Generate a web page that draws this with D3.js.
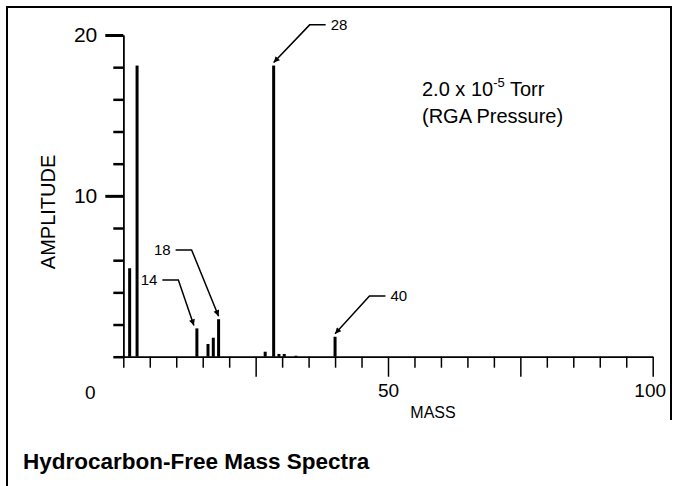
<!DOCTYPE html>
<html>
<head>
<meta charset="utf-8">
<script src="https://cdn.jsdelivr.net/npm/d3@7"></script>
<style>
  body { margin: 0; background: #fff; }
  text { font-family: "Liberation Sans", Arial, sans-serif; fill: #000; }
</style>
</head>
<body>
<svg id="grafico"></svg>
<script>
// peak positions (mass) and amplitudes
const massas = [1.2, 2.6, 13.9, 16, 17, 18, 26.8, 28.4, 29.4, 30.4, 32.6, 40];
const amplitudes = [5.5, 18.1, 1.76, 0.79, 1.18, 2.33, 0.31, 18.1, 0.17, 0.17, 0.06, 1.24];

const ticksY = [0, 2, 4, 6, 8, 12, 14, 16, 18];
const ticksYMaiores = [10, 20];
const ticksX = [0, 5, 10, 15, 20, 30, 35, 40, 45, 55, 60, 65, 70, 80, 85, 90, 95];
const ticksXMaiores = [25, 50, 75, 100];
const rotulosX = [50, 100];

// labelled peaks: label, peak mass, elbow of the leader (data units), side of the text
const anotacoes = [
  { rotulo: '28', massa: 28.4, valor: 18.1, cotoveloX: 35.2, cotoveloY: 20.63, lado: 'direita' },
  { rotulo: '18', massa: 18, valor: 2.33, cotoveloX: 12.9, cotoveloY: 6.64, lado: 'esquerda' },
  { rotulo: '14', massa: 13.9, valor: 1.76, cotoveloX: 10.4, cotoveloY: 4.77, lado: 'esquerda' },
  { rotulo: '40', massa: 40, valor: 1.24, cotoveloX: 46.5, cotoveloY: 3.78, lado: 'direita' }
];

const largura = 677, altura = 486;
const margem = { esquerda: 123.3, direita: 24.3, superior: 35, inferior: 129.3 };

let svg = d3.select('#grafico')
  .attr('width', largura)
  .attr('height', altura);

// frame
svg.append('path')
  .attr('d', 'M7,486 V7 H671 V420')
  .attr('fill', 'none')
  .attr('stroke', '#000')
  .attr('stroke-width', 2);

let larguraPlotagem = largura - margem.esquerda - margem.direita;
let alturaPlotagem = altura - margem.superior - margem.inferior;

let plotagem = svg.append('g')
  .attr('transform', 'translate(' + margem.esquerda + ',' + margem.superior + ')');

let fnX = d3.scaleLinear().domain([0, 100]).range([0, larguraPlotagem]);
let fnY = d3.scaleLinear().domain([0, 20]).range([alturaPlotagem, 0]);

// y axis
plotagem.append('g')
  .attr('class', 'eixoY')
  .call(d3.axisLeft(fnY).tickValues(ticksY).tickSize(10).tickFormat('').tickSizeOuter(0))
  .call(g => g.selectAll('.tick line').attr('stroke-width', 2.5));
plotagem.append('g')
  .attr('class', 'eixoY')
  .call(d3.axisLeft(fnY).tickValues(ticksYMaiores).tickSize(18).tickPadding(8).tickSizeOuter(0))
  .call(g => g.selectAll('.tick line').attr('stroke-width', 3))
  .call(g => g.selectAll('.tick text').style('font-size', '21px'));
plotagem.selectAll('.eixoY .domain').attr('stroke-width', 1.5);

// x axis
plotagem.append('g')
  .attr('class', 'eixoX')
  .attr('transform', 'translate(0,' + alturaPlotagem + ')')
  .call(d3.axisBottom(fnX).tickValues(ticksX).tickSize(11).tickFormat('').tickSizeOuter(0))
  .call(g => g.selectAll('.tick line').attr('stroke-width', 1.5));
plotagem.append('g')
  .attr('class', 'eixoX')
  .attr('transform', 'translate(0,' + alturaPlotagem + ')')
  .call(d3.axisBottom(fnX).tickValues(ticksXMaiores).tickSize(20).tickFormat('').tickSizeOuter(0))
  .call(g => g.selectAll('.tick line').attr('stroke-width', 1.5));
plotagem.append('g')
  .attr('transform', 'translate(0,' + alturaPlotagem + ')')
  .call(d3.axisBottom(fnX).tickValues(rotulosX).tickSize(0).tickPadding(27).tickSizeOuter(0))
  .call(g => g.select('.domain').remove())
  .call(g => g.selectAll('.tick text').style('font-size', '19px'))
  .call(g => g.selectAll('.tick text').filter(d => d === 100).attr('dx', -3));
plotagem.selectAll('.eixoX .domain').attr('stroke-width', 1.5);

// the lone origin label sits left of the axis
plotagem.append('text')
  .attr('x', fnX(0) - 33)
  .attr('y', alturaPlotagem + 42)
  .style('text-anchor', 'middle')
  .style('font-size', '19px')
  .text('0');

// peaks
let dados = massas.map((m, i) => ({ massa: m, valor: amplitudes[i] }));
plotagem.selectAll('.barra')
  .data(dados)
  .enter()
  .append('rect')
  .classed('barra', true)
  .attr('x', d => fnX(d.massa) - 1.5)
  .attr('y', d => fnY(d.valor))
  .attr('width', 3)
  .attr('height', d => alturaPlotagem - fnY(d.valor))
  .attr('fill', '#000');

// leader lines with arrow heads
svg.append('defs').append('marker')
  .attr('id', 'seta')
  .attr('viewBox', '0 0 10 10')
  .attr('refX', 10).attr('refY', 5)
  .attr('markerWidth', 10).attr('markerHeight', 6)
  .attr('markerUnits', 'userSpaceOnUse')
  .attr('orient', 'auto')
  .append('path')
  .attr('d', 'M0,0 L10,5 L0,10 z')
  .attr('fill', '#000');

anotacoes.forEach(a => {
  let sinal = a.lado === 'direita' ? 1 : -1;
  let ex = fnX(a.cotoveloX), ey = fnY(a.cotoveloY);
  let px = fnX(a.massa) - (a.rotulo === '14' ? 3 : 0);
  let py = fnY(a.valor) - 3;
  plotagem.append('path')
    .attr('d', 'M' + (ex + sinal * 16) + ',' + ey + ' L' + ex + ',' + ey + ' L' + px + ',' + py)
    .attr('fill', 'none')
    .attr('stroke', '#000')
    .attr('stroke-width', 1.5)
    .attr('marker-end', 'url(#seta)');
  plotagem.append('text')
    .attr('x', ex + sinal * 21)
    .attr('y', ey)
    .attr('dy', '0.35em')
    .style('text-anchor', a.lado === 'direita' ? 'start' : 'end')
    .style('font-size', '15px')
    .text(a.rotulo);
});

// pressure note
let nota = svg.append('text')
  .attr('x', 422)
  .attr('y', 96)
  .style('font-size', '20px');
nota.append('tspan').text('2.0 x 10');
nota.append('tspan').attr('dy', -9).style('font-size', '13px').text('-5');
nota.append('tspan').attr('dy', 9).text(' Torr');
svg.append('text')
  .attr('x', 422)
  .attr('y', 123)
  .style('font-size', '20px')
  .text('(RGA Pressure)');

// axis titles
svg.append('text')
  .attr('x', margem.esquerda + fnX(58.5))
  .attr('y', 418)
  .style('text-anchor', 'middle')
  .style('font-size', '16px')
  .text('MASS');
svg.append('text')
  .attr('transform', 'translate(55,' + (margem.superior + fnY(9)) + ') rotate(-90)')
  .style('text-anchor', 'middle')
  .style('font-size', '20px')
  .text('AMPLITUDE');

svg.append('text')
  .attr('x', 23)
  .attr('y', 469)
  .style('font-size', '22.5px')
  .style('font-weight', 'bold')
  .text('Hydrocarbon-Free Mass Spectra');
</script>
</body>
</html>
